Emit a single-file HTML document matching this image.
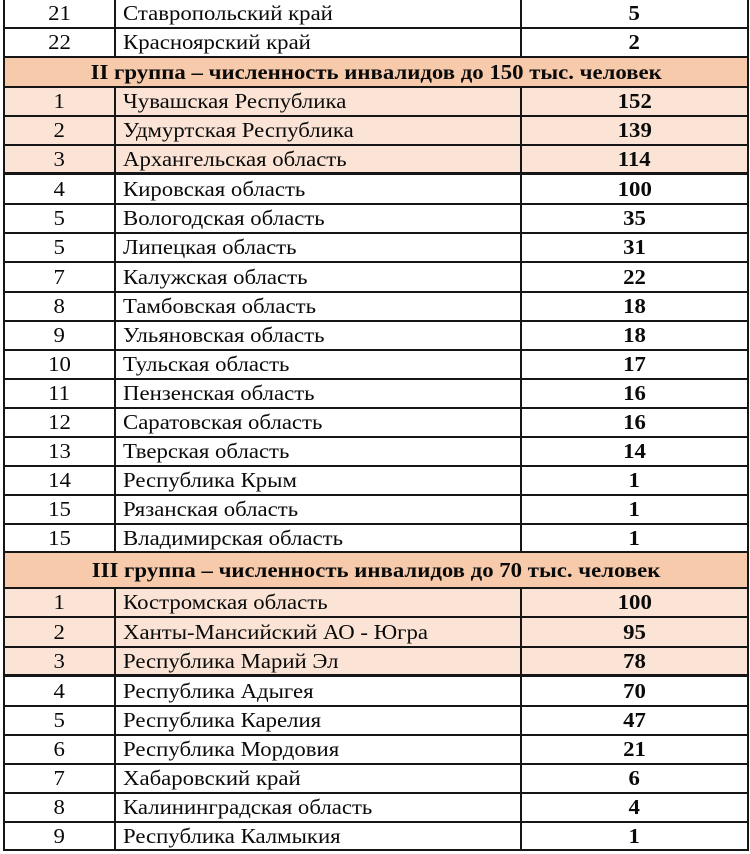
<!DOCTYPE html>
<html><head><meta charset="utf-8">
<style>
html,body{margin:0;padding:0;background:#fff;}
body{width:750px;height:854px;position:relative;overflow:hidden;font-family:"Liberation Serif","Noto Serif CJK SC",serif;color:#0a0a0a;}
.row{position:absolute;left:4px;width:744px;}
.pink{background:#fbe4d5;}
.hdr{background:#f7caac;}
.c{position:absolute;top:0;bottom:0;display:flex;align-items:center;font-size:21px;white-space:nowrap;}
.c span{display:inline-block;transform:scaleX(1.085);transform-origin:center;}
.c1{left:0;width:111px;justify-content:center;}
.c2{left:119px;width:400px;}
.c2 span{transform-origin:left center;}
.c3{left:517px;width:227px;justify-content:center;font-weight:bold;}
.h{left:0;right:0;justify-content:center;font-weight:bold;}
.hl{position:absolute;left:3px;width:746px;height:2px;background:#161616;}
.vl{position:absolute;width:2px;background:#161616;}
</style></head><body>

<div class="row" style="top:-1px;height:29px"><div class="c c1"><span>21</span></div><div class="c c2"><span>Ставропольский край</span></div><div class="c c3"><span>5</span></div></div>
<div class="row" style="top:28px;height:29px"><div class="c c1"><span>22</span></div><div class="c c2"><span>Красноярский край</span></div><div class="c c3"><span>2</span></div></div>
<div class="row hdr" style="top:57px;height:30px"><div class="c h"><span>II группа – численность инвалидов до 150 тыс. человек</span></div></div>
<div class="row pink" style="top:87px;height:29px"><div class="c c1"><span>1</span></div><div class="c c2"><span>Чувашская Республика</span></div><div class="c c3"><span>152</span></div></div>
<div class="row pink" style="top:116px;height:29px"><div class="c c1"><span>2</span></div><div class="c c2"><span>Удмуртская Республика</span></div><div class="c c3"><span>139</span></div></div>
<div class="row pink" style="top:145px;height:29px"><div class="c c1"><span>3</span></div><div class="c c2"><span>Архангельская область</span></div><div class="c c3"><span>114</span></div></div>
<div class="row" style="top:174px;height:30px"><div class="c c1"><span>4</span></div><div class="c c2"><span>Кировская область</span></div><div class="c c3"><span>100</span></div></div>
<div class="row" style="top:204px;height:29px"><div class="c c1"><span>5</span></div><div class="c c2"><span>Вологодская область</span></div><div class="c c3"><span>35</span></div></div>
<div class="row" style="top:233px;height:29px"><div class="c c1"><span>5</span></div><div class="c c2"><span>Липецкая область</span></div><div class="c c3"><span>31</span></div></div>
<div class="row" style="top:262px;height:30px"><div class="c c1"><span>7</span></div><div class="c c2"><span>Калужская область</span></div><div class="c c3"><span>22</span></div></div>
<div class="row" style="top:292px;height:29px"><div class="c c1"><span>8</span></div><div class="c c2"><span>Тамбовская область</span></div><div class="c c3"><span>18</span></div></div>
<div class="row" style="top:321px;height:29px"><div class="c c1"><span>9</span></div><div class="c c2"><span>Ульяновская область</span></div><div class="c c3"><span>18</span></div></div>
<div class="row" style="top:350px;height:29px"><div class="c c1"><span>10</span></div><div class="c c2"><span>Тульская область</span></div><div class="c c3"><span>17</span></div></div>
<div class="row" style="top:379px;height:29px"><div class="c c1"><span>11</span></div><div class="c c2"><span>Пензенская область</span></div><div class="c c3"><span>16</span></div></div>
<div class="row" style="top:408px;height:29px"><div class="c c1"><span>12</span></div><div class="c c2"><span>Саратовская область</span></div><div class="c c3"><span>16</span></div></div>
<div class="row" style="top:437px;height:29px"><div class="c c1"><span>13</span></div><div class="c c2"><span>Тверская область</span></div><div class="c c3"><span>14</span></div></div>
<div class="row" style="top:466px;height:29px"><div class="c c1"><span>14</span></div><div class="c c2"><span>Республика Крым</span></div><div class="c c3"><span>1</span></div></div>
<div class="row" style="top:495px;height:29px"><div class="c c1"><span>15</span></div><div class="c c2"><span>Рязанская область</span></div><div class="c c3"><span>1</span></div></div>
<div class="row" style="top:524px;height:28px"><div class="c c1"><span>15</span></div><div class="c c2"><span>Владимирская область</span></div><div class="c c3"><span>1</span></div></div>
<div class="row hdr" style="top:552px;height:36px"><div class="c h"><span>III группа – численность инвалидов до 70 тыс. человек</span></div></div>
<div class="row pink" style="top:588px;height:29px"><div class="c c1"><span>1</span></div><div class="c c2"><span>Костромская область</span></div><div class="c c3"><span>100</span></div></div>
<div class="row pink" style="top:617px;height:30px"><div class="c c1"><span>2</span></div><div class="c c2"><span>Ханты-Мансийский АО - Югра</span></div><div class="c c3"><span>95</span></div></div>
<div class="row pink" style="top:647px;height:29px"><div class="c c1"><span>3</span></div><div class="c c2"><span>Республика Марий Эл</span></div><div class="c c3"><span>78</span></div></div>
<div class="row" style="top:676px;height:30px"><div class="c c1"><span>4</span></div><div class="c c2"><span>Республика Адыгея</span></div><div class="c c3"><span>70</span></div></div>
<div class="row" style="top:706px;height:29px"><div class="c c1"><span>5</span></div><div class="c c2"><span>Республика Карелия</span></div><div class="c c3"><span>47</span></div></div>
<div class="row" style="top:735px;height:29px"><div class="c c1"><span>6</span></div><div class="c c2"><span>Республика Мордовия</span></div><div class="c c3"><span>21</span></div></div>
<div class="row" style="top:764px;height:29px"><div class="c c1"><span>7</span></div><div class="c c2"><span>Хабаровский край</span></div><div class="c c3"><span>6</span></div></div>
<div class="row" style="top:793px;height:29px"><div class="c c1"><span>8</span></div><div class="c c2"><span>Калининградская область</span></div><div class="c c3"><span>4</span></div></div>
<div class="row" style="top:822px;height:28px"><div class="c c1"><span>9</span></div><div class="c c2"><span>Республика Калмыкия</span></div><div class="c c3"><span>1</span></div></div>

<!-- horizontal lines -->
<div class="hl" style="top:27px"></div>
<div class="hl" style="top:56px"></div>
<div class="hl" style="top:86px"></div>
<div class="hl" style="top:115px"></div>
<div class="hl" style="top:144px"></div>
<div class="hl" style="top:172px;height:3px"></div>
<div class="hl" style="top:203px"></div>
<div class="hl" style="top:232px"></div>
<div class="hl" style="top:261px"></div>
<div class="hl" style="top:291px"></div>
<div class="hl" style="top:320px"></div>
<div class="hl" style="top:349px"></div>
<div class="hl" style="top:378px"></div>
<div class="hl" style="top:407px"></div>
<div class="hl" style="top:436px"></div>
<div class="hl" style="top:465px"></div>
<div class="hl" style="top:494px"></div>
<div class="hl" style="top:523px"></div>
<div class="hl" style="top:551px"></div>
<div class="hl" style="top:587px"></div>
<div class="hl" style="top:616px"></div>
<div class="hl" style="top:646px"></div>
<div class="hl" style="top:674px;height:3px"></div>
<div class="hl" style="top:705px"></div>
<div class="hl" style="top:734px"></div>
<div class="hl" style="top:763px"></div>
<div class="hl" style="top:792px"></div>
<div class="hl" style="top:821px"></div>
<div class="hl" style="top:849px"></div>

<!-- vertical lines -->
<div class="vl" style="left:3px;top:0;height:851px"></div>
<div class="vl" style="left:747px;top:0;height:851px"></div>
<div class="vl" style="left:114px;top:0;height:57px"></div>
<div class="vl" style="left:520px;top:0;height:57px"></div>
<div class="vl" style="left:114px;top:87px;height:465px"></div>
<div class="vl" style="left:520px;top:87px;height:465px"></div>
<div class="vl" style="left:114px;top:588px;height:263px"></div>
<div class="vl" style="left:520px;top:588px;height:263px"></div>

</body></html>
